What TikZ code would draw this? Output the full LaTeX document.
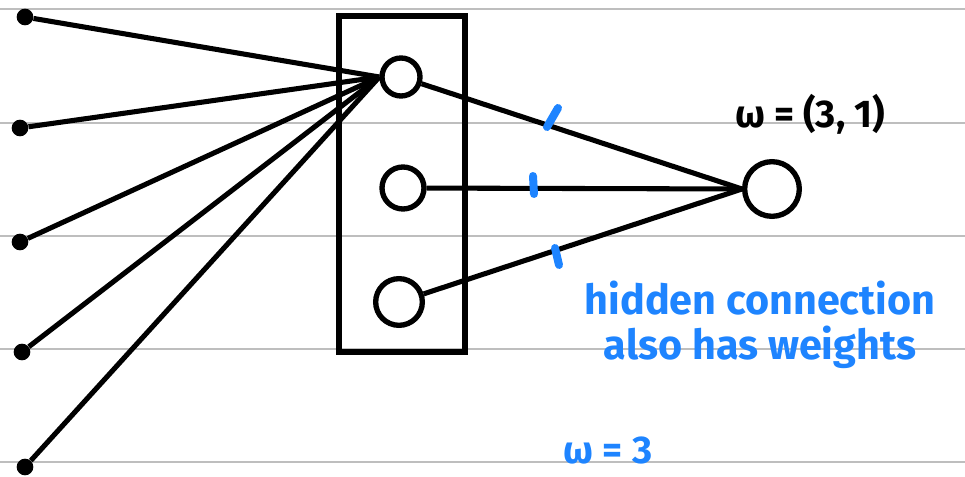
\documentclass[tikz,border=0pt]{standalone}
\usepackage{fontspec}
\setmainfont{Fira Sans}
\usetikzlibrary{backgrounds}
\definecolor{inkblue}{RGB}{30,132,255}
\definecolor{rulegray}{RGB}{190,190,190}
\begin{document}
\begin{tikzpicture}[x=0.75pt,y=-0.75pt,
  ink/.style={line width=3.8pt},
  neuron/.style={circle,draw,line width=4pt,fill=white,inner sep=0pt},
  inp/.style={circle,fill,inner sep=0pt,minimum size=12.5pt},
  wtick/.style={inkblue,line width=6pt,line cap=round},
  ruling/.style={rulegray,line width=2.2pt},
  hand/.style={font=\fontsize{29}{34}\selectfont\bfseries},
  note/.style={font=\fontsize{31}{34}\selectfont\bfseries}]
\useasboundingbox (0,0) rectangle (965,477);
% layer box and neurons
\node[draw,line width=3.8pt,minimum width=94.5pt,minimum height=252pt,inner sep=0pt] (box) at (402,184) {};
\node[neuron,minimum size=28.5pt] (h1) at (401,77) {};
\node[neuron,minimum size=31.5pt] (h2) at (403,188) {};
\node[neuron,minimum size=35pt] (h3) at (399,302) {};
\node[neuron,minimum size=41pt] (out) at (772,189) {};
% inputs
\node[inp] (i1) at (25,17) {};
\node[inp] (i2) at (20,128) {};
\node[inp] (i3) at (20,242) {};
\node[inp] (i4) at (22,352) {};
\node[inp] (i5) at (25,467) {};
\begin{pgfonlayer}{background}
  \foreach \yy in {9,123,236,349,462} \draw[ruling] (0,\yy) -- (965,\yy);
  \foreach \i in {1,...,5} \draw[ink] (i\i) -- (h1.west);
  \draw[ink] (h1) -- (out.west);
  \draw[ink] (h2) -- (out.west);
  \draw[ink] (h3) -- (out.west);
\end{pgfonlayer}
% weight ticks
\draw[wtick] (547,127) -- (558,108);
\draw[wtick] (533,176) -- (534,194);
\draw[wtick] (555,248) -- (559,265);
% labels
\node[hand] (w1) at (810,114) {ω = (3, 1)};
\node[note,text=inkblue,align=center] (note) at (760,325) {hidden connection\\also has weights};
\node[hand,text=inkblue] (w2) at (608,450) {ω = 3};
\end{tikzpicture}
\end{document}
